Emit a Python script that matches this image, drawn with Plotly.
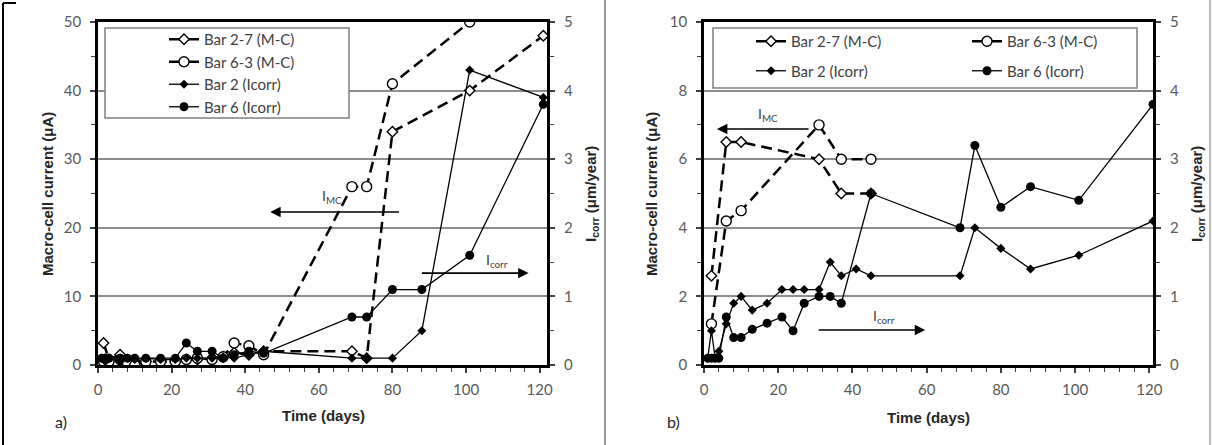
import plotly.graph_objects as go

W, H = 1212, 445

# ---------------- Panel a) data ----------------
a_mc27_t = [1.5, 3, 6, 8, 10, 13, 17, 21, 24, 27, 31, 34, 37, 41, 45, 69, 73, 80, 101, 121]
a_mc27_v = [3.2, 0.8, 1.5, 0.5, 0.5, 0.5, 0.5, 0.5, 0.8, 0.8, 1.0, 1.2, 1.8, 1.5, 2.0, 2.0, 1.0, 34, 40, 48]

a_mc63_t = [1.5, 3, 6, 8, 10, 13, 17, 21, 24, 27, 31, 34, 37, 41, 45, 69, 73, 80, 101]
a_mc63_v = [0.5, 0.5, 0.8, 0.3, 0.0, 0.5, 0.5, 0.5, 0.8, 1.0, 0.8, 1.2, 3.2, 2.8, 1.5, 26, 26, 41, 50]

a_ic2_t = [1, 2, 3, 6, 8, 10, 13, 17, 21, 24, 27, 31, 34, 37, 41, 45, 69, 73, 80, 88, 101, 121]
a_ic2_v = [0.1, 0.05, 0.1, 0.05, 0.1, 0.08, 0.1, 0.08, 0.08, 0.1, 0.1, 0.1, 0.12, 0.1, 0.15, 0.2, 0.1, 0.1, 0.1, 0.5, 4.3, 3.9]

a_ic6_t = [1, 2, 3, 6, 8, 10, 13, 17, 21, 24, 27, 31, 34, 37, 41, 45, 69, 73, 80, 88, 101, 121]
a_ic6_v = [0.1, 0.1, 0.1, 0.1, 0.1, 0.1, 0.1, 0.1, 0.1, 0.32, 0.2, 0.2, 0.1, 0.15, 0.2, 0.17, 0.7, 0.7, 1.1, 1.1, 1.6, 3.8]

# ---------------- Panel b) data ----------------
b_mc27_t = [2, 6, 10, 31, 37, 45]
b_mc27_v = [2.6, 6.5, 6.5, 6.0, 5.0, 5.0]

b_mc63_t = [2, 6, 10, 31, 37, 45]
b_mc63_v = [1.2, 4.2, 4.5, 7.0, 6.0, 6.0]

b_ic2_t = [1, 2, 3, 4, 6, 8, 10, 13, 17, 21, 24, 27, 31, 34, 37, 41, 45, 69, 73, 80, 88, 101, 121]
b_ic2_v = [0.1, 0.5, 0.1, 0.2, 0.6, 0.9, 1.0, 0.8, 0.9, 1.1, 1.1, 1.1, 1.1, 1.5, 1.3, 1.4, 1.3, 1.3, 2.0, 1.7, 1.4, 1.6, 2.1]

b_ic6_t = [1, 2, 3, 4, 6, 8, 10, 13, 17, 21, 24, 27, 31, 34, 37, 45, 69, 73, 80, 88, 101, 121]
b_ic6_v = [0.1, 0.1, 0.1, 0.1, 0.7, 0.4, 0.4, 0.52, 0.61, 0.7, 0.5, 0.9, 1.0, 1.0, 0.9, 2.5, 2.0, 3.2, 2.3, 2.6, 2.4, 3.8]

names = ["Bar 2-7 (M-C)", "Bar 6-3 (M-C)", "Bar 2 (Icorr)", "Bar 6 (Icorr)"]

# ---------------- styles ----------------
MC_LINE = dict(color="black", width=2.5, dash="11px,6px")
IC_LINE = dict(color="black", width=1.3)
M27 = dict(symbol="diamond", size=8, color="white", line=dict(color="black", width=1.4))
M63 = dict(symbol="circle", size=10, color="white", line=dict(color="black", width=1.4))
M2 = dict(symbol="diamond", size=7, color="black", line=dict(width=0))
M6 = dict(symbol="circle", size=9, color="black", line=dict(width=0))

TICKF = dict(family="Lato", size=15, color="#595959")
TITLEF = dict(family="Liberation Sans", size=15, color="#262626", weight="bold")
LEGF = dict(family="Lato", size=15, color="#404040")

fig = go.Figure()

def add(t, v, xa, ya, line, marker):
    fig.add_trace(go.Scatter(x=t, y=v, xaxis=xa, yaxis=ya, mode="lines+markers",
                             line=line, marker=marker, showlegend=False, hoverinfo="skip"))

# panel a
add(a_ic2_t, a_ic2_v, "x", "y2", IC_LINE, M2)
add(a_ic6_t, a_ic6_v, "x", "y2", IC_LINE, M6)
add(a_mc27_t, a_mc27_v, "x", "y", MC_LINE, M27)
add(a_mc63_t, a_mc63_v, "x", "y", MC_LINE, M63)
# panel b
add(b_ic2_t, b_ic2_v, "x2", "y4", IC_LINE, M2)
add(b_ic6_t, b_ic6_v, "x2", "y4", IC_LINE, M6)
add(b_mc27_t, b_mc27_v, "x2", "y3", MC_LINE, M27)
add(b_mc63_t, b_mc63_v, "x2", "y3", MC_LINE, M63)

# legend entries (solid samples, as in the reference)
leg_lines = [dict(color="black", width=2.5), dict(color="black", width=2.5),
             dict(color="black", width=1.3), dict(color="black", width=1.3)]
leg_marks = [M27, M63, M2, M6]
for i in range(4):
    fig.add_trace(go.Scatter(x=[None], y=[None], xaxis="x", yaxis="y", mode="lines+markers",
                             name=names[i], line=leg_lines[i], marker=leg_marks[i],
                             legend="legend", legendgroup="a%d" % i))
for i, lg in zip(range(4), ["legend2", "legend3", "legend2", "legend3"]):
    fig.add_trace(go.Scatter(x=[None], y=[None], xaxis="x2", yaxis="y3", mode="lines+markers",
                             name=names[i], line=leg_lines[i], marker=leg_marks[i],
                             legend=lg, legendgroup="b%d" % i))

ydom = [(H - 365) / H, (H - 22) / H]

def xax(dom, rng, anchor):
    return dict(domain=dom, range=rng, anchor=anchor, tick0=0, dtick=20, ticks="outside",
                ticklen=5, tickwidth=1.5, tickcolor="#404040", tickfont=TICKF,
                minor=dict(dtick=4, ticks="outside", ticklen=4, tickwidth=1.2, tickcolor="#404040"),
                showline=True, linewidth=2.8, linecolor="black", mirror=True,
                showgrid=False, zeroline=False, automargin=False, ticklabelstandoff=4)

def yax(rng, dt, anchor, grid, side="left", overlay=None):
    d = dict(range=rng, anchor=anchor, tick0=0, dtick=dt, ticks="outside", ticklen=5,
             tickwidth=1.5, tickcolor="#404040", tickfont=TICKF,
             minor=dict(dtick=dt / 2, ticks="outside", ticklen=4, tickwidth=1.2, tickcolor="#404040"),
             showline=True, linewidth=2.8, linecolor="black", side=side,
             showgrid=grid, gridcolor="#8c8c8c", gridwidth=1.5, zeroline=False,
             automargin=False, ticklabelstandoff=6)
    if overlay:
        d["overlaying"] = overlay
    else:
        d["domain"] = ydom
    return d

fig.update_layout(
    width=W, height=H, autosize=False, template="none",
    margin=dict(l=0, r=0, t=0, b=0), paper_bgcolor="white", plot_bgcolor="white",
    xaxis=xax([98 / W, 547 / W], [0, 122], "y"),
    yaxis=yax([0, 50], 10, "x", True),
    yaxis2=yax([0, 5], 1, "x", False, side="right", overlay="y"),
    xaxis2=xax([704 / W, 1153 / W], [0, 121], "y3"),
    yaxis3=yax([0, 10], 2, "x2", True),
    yaxis4=yax([0, 5], 1, "x2", False, side="right", overlay="y3"),
    legend=dict(x=164 / W, y=1 - 23 / H, xanchor="left", yanchor="top", bgcolor="rgba(0,0,0,0)",
                font=LEGF, tracegroupgap=0, borderwidth=0),
    legend2=dict(x=751 / W, y=1 - 25 / H, xanchor="left", yanchor="top", bgcolor="rgba(0,0,0,0)",
                 font=LEGF, tracegroupgap=7, borderwidth=0),
    legend3=dict(x=967 / W, y=1 - 25 / H, xanchor="left", yanchor="top", bgcolor="rgba(0,0,0,0)",
                 font=LEGF, tracegroupgap=7, borderwidth=0),
)

shapes = [
    # legend boxes
    dict(type="rect", xref="paper", yref="paper", x0=105 / W, x1=349 / W, y0=1 - 118 / H, y1=1 - 28 / H,
         line=dict(color="#7f7f7f", width=1.5), fillcolor="white", layer="above"),
    dict(type="rect", xref="paper", yref="paper", x0=713 / W, x1=1137 / W, y0=1 - 88 / H, y1=1 - 28 / H,
         line=dict(color="#7f7f7f", width=1.5), fillcolor="white", layer="above"),
    # frame lines
    dict(type="line", xref="paper", yref="paper", x0=3 / W, x1=3 / W, y0=0, y1=1 - 3 / H,
         line=dict(color="black", width=2)),
    dict(type="line", xref="paper", yref="paper", x0=3 / W, x1=16 / W, y0=1 - 3 / H, y1=1 - 3 / H,
         line=dict(color="black", width=2)),
    dict(type="line", xref="paper", yref="paper", x0=605 / W, x1=605 / W, y0=0, y1=1,
         line=dict(color="#9a9a9a", width=2)),
    dict(type="line", xref="paper", yref="paper", x0=1210 / W, x1=1210 / W, y0=0, y1=1,
         line=dict(color="#bdbdbd", width=2)),
]
fig.update_layout(shapes=shapes)

ann = []
def txt(x, y, s, font, angle=0):
    ann.append(dict(x=x / W, y=1 - y / H, xref="paper", yref="paper", text=s, showarrow=False,
                    font=font, textangle=angle, xanchor="center", yanchor="middle"))

txt(47, 194, "Macro-cell current (μA)", TITLEF, -90)
txt(591, 194, "I<sub>corr</sub> (μm/year)", TITLEF, -90)
txt(651, 194, "Macro-cell current (μA)", TITLEF, -90)
txt(1197, 194, "I<sub>corr</sub> (μm/year)", TITLEF, -90)
txt(323, 415, "Time (days)", TITLEF)
txt(928, 417, "Time (days)", TITLEF)
LBL = dict(family="Lato", size=16, color="#262626")
txt(61, 421, "a)", LBL)
txt(673, 421, "b)", LBL)

ARR = dict(family="Lato", size=14, color="#404040")
def arrow(xref, yref, head, tail, y):
    ann.append(dict(x=head, y=y, ax=tail, ay=y, xref=xref, yref=yref, axref=xref, ayref=yref,
                    text="", showarrow=True, arrowhead=2, arrowsize=1.3, arrowwidth=1.6,
                    arrowcolor="black"))
def label(xref, yref, x, y, s):
    ann.append(dict(x=x, y=y, xref=xref, yref=yref, text=s, showarrow=False, font=ARR))

arrow("x", "y", 46.8, 82.2, 22.3)
label("x", "y", 63.5, 24.6, "I<sub>MC</sub>")
arrow("x", "y", 117.0, 87.6, 13.4)
label("x", "y", 108.5, 15.2, "I<sub>corr</sub>")
arrow("x2", "y3", 3.5, 28.6, 6.88)
label("x2", "y3", 17.3, 7.3, "I<sub>MC</sub>")
arrow("x2", "y3", 59.6, 30.5, 1.02)
label("x2", "y3", 48.5, 1.4, "I<sub>corr</sub>")

fig.update_layout(annotations=ann)

# remove the browser's default 8px body margin so the figure sits at the page origin
fig.write_html("out.html", config={"displayModeBar": False},
               post_script="document.body.style.margin='0';")
